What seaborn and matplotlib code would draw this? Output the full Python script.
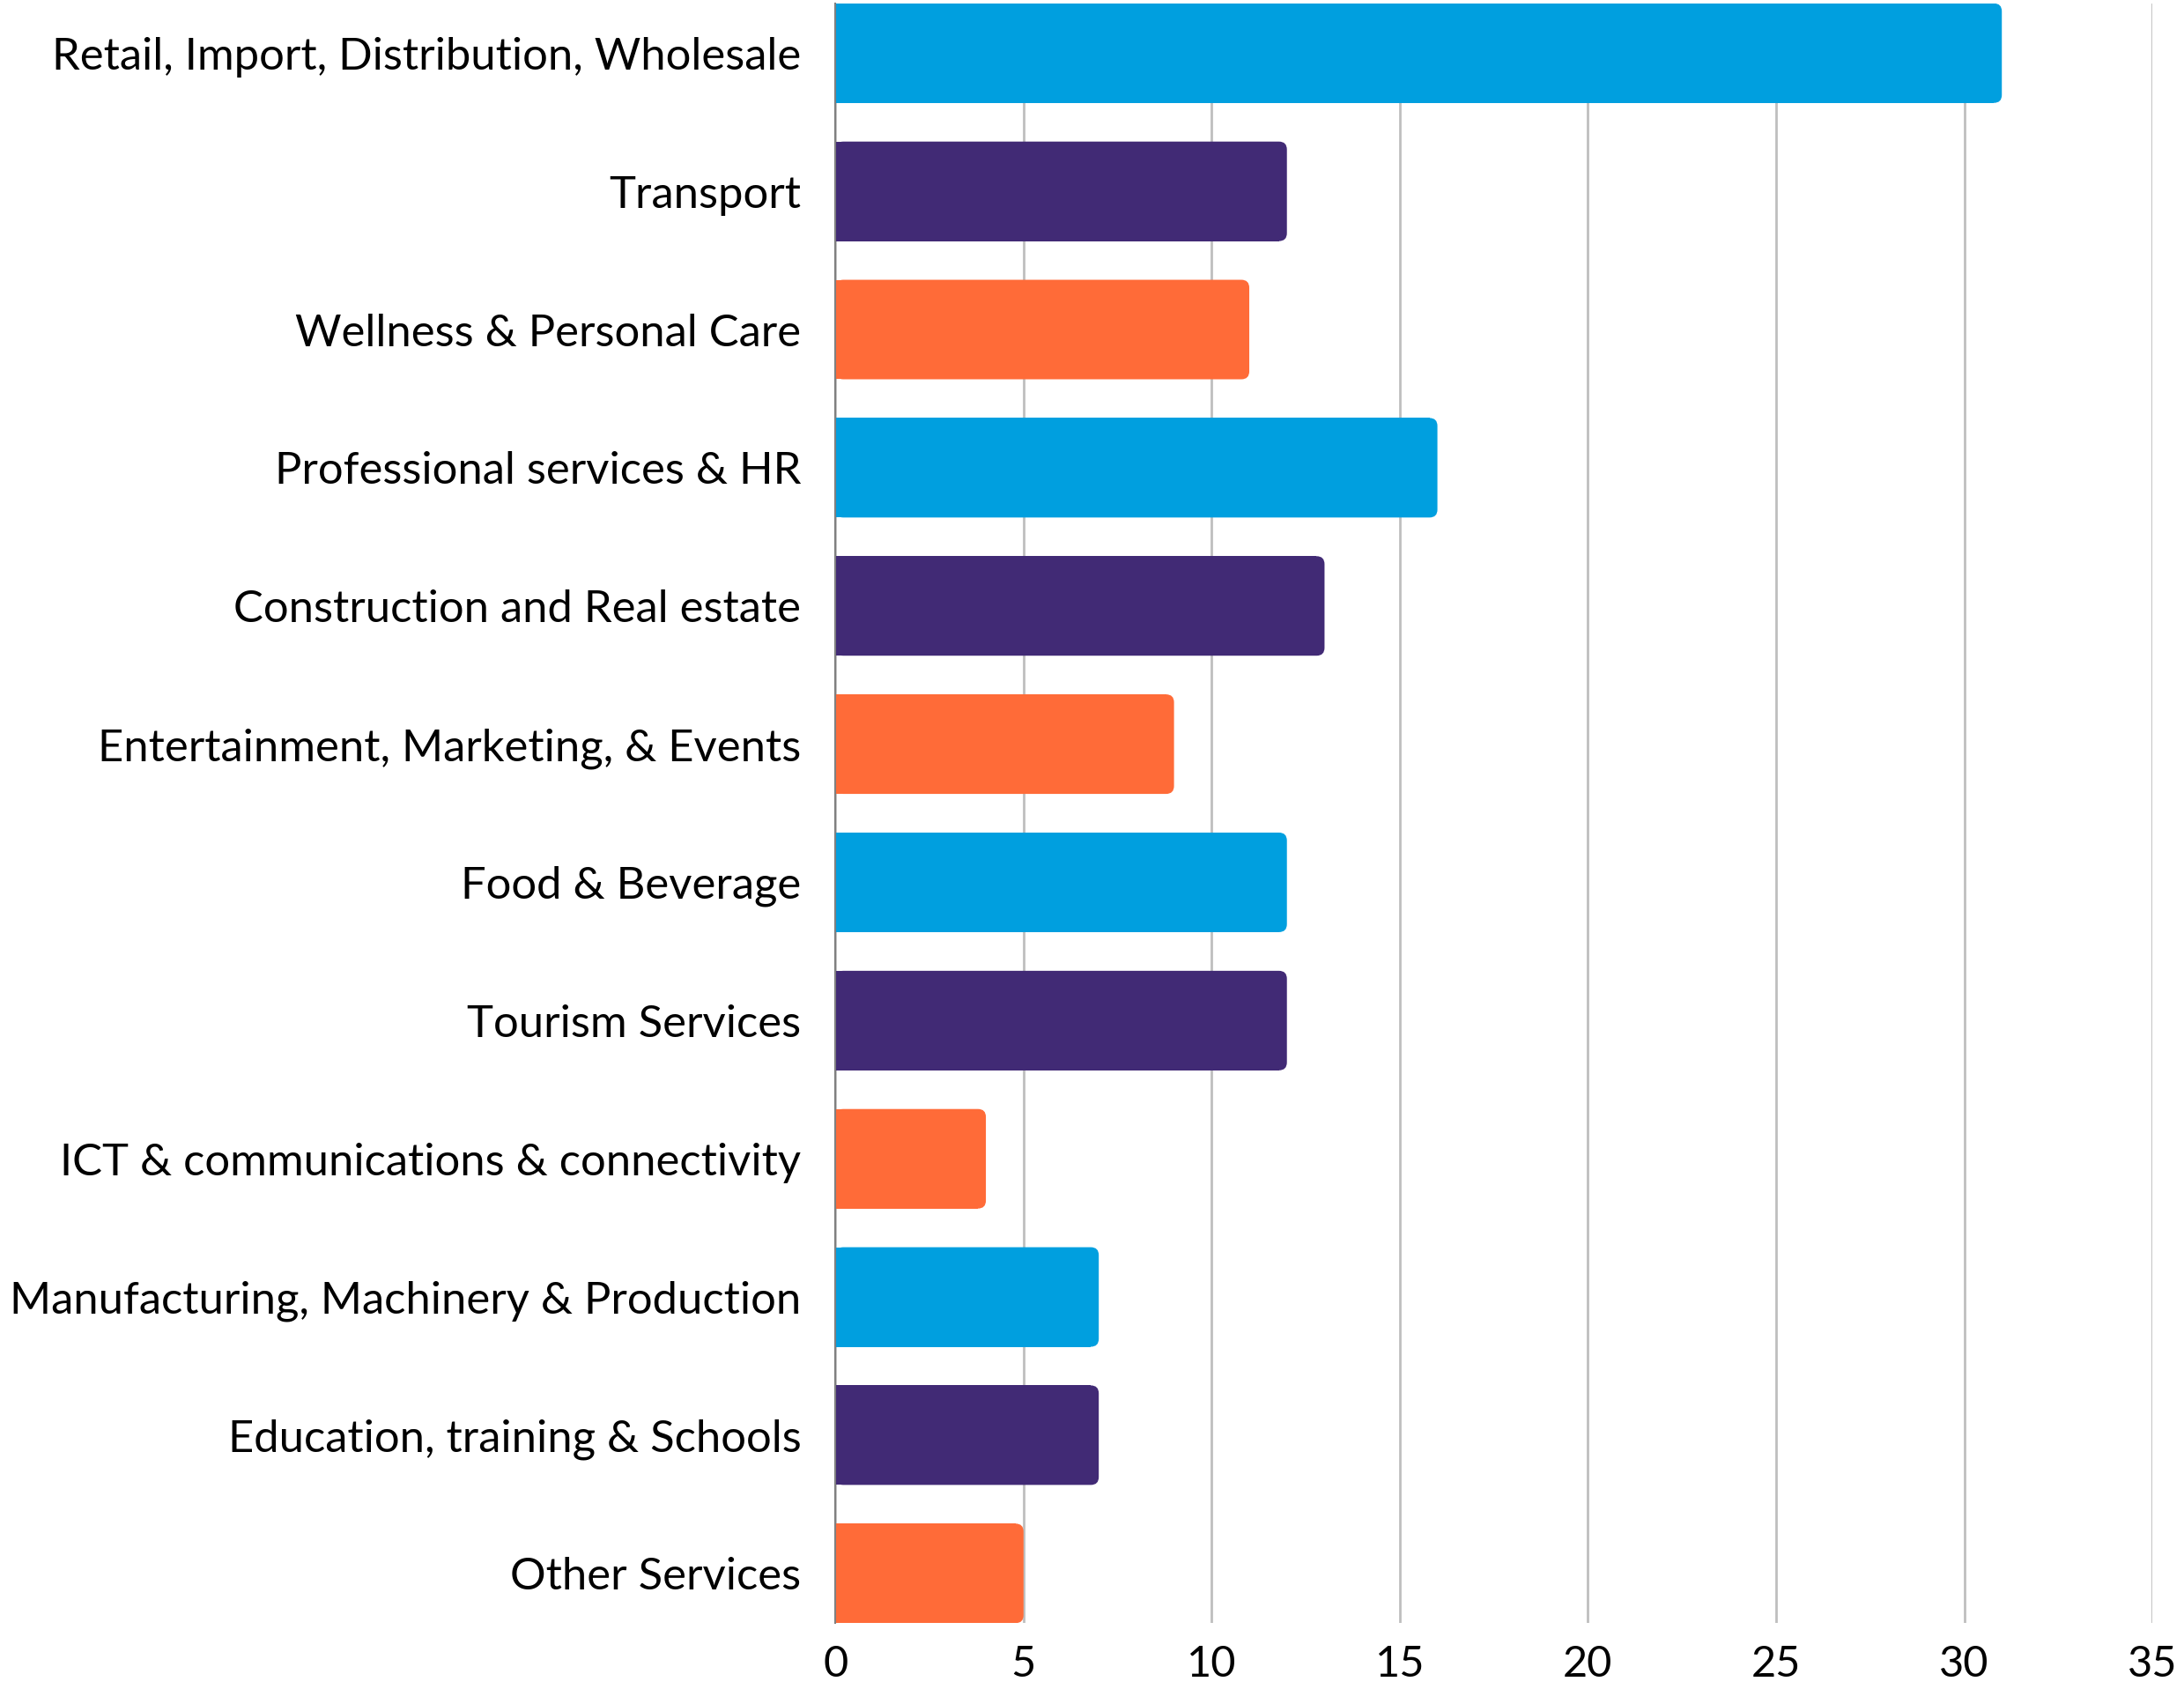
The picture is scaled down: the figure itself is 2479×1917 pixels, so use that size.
import pandas as pd
import numpy as np
import seaborn as sns
import matplotlib.pyplot as plt
from matplotlib.patches import FancyBboxPatch, Rectangle

# Data
sectors = [
    "Retail, Import, Distribution, Wholesale",
    "Transport",
    "Wellness & Personal Care",
    "Professional services & HR",
    "Construction and Real estate",
    "Entertainment, Marketing, & Events",
    "Food & Beverage",
    "Tourism Services",
    "ICT & communications & connectivity",
    "Manufacturing, Machinery & Production",
    "Education, training & Schools",
    "Other Services",
]
counts = [31, 12, 11, 16, 13, 9, 12, 12, 4, 7, 7, 5]
palette = ["#009FDF", "#412A75", "#FF6B38"]
bar_colors = [palette[i % 3] for i in range(len(sectors))]
x_ticks = [0, 5, 10, 15, 20, 25, 30, 35]

df = pd.DataFrame({"sector": sectors, "count": counts})

sns.set_style("white")
plt.rcParams["font.family"] = ["Lato", "DejaVu Sans"]

fig = plt.figure(figsize=(24.79, 19.17), dpi=100)
ax = fig.add_axes([0.3825, 0.039, 0.603, 0.959])

sns.barplot(data=df, x="count", y="sector", hue="sector", palette=bar_colors,
            saturation=1, width=0.72, legend=False, ax=ax, zorder=3)

ax.set_xlim(0, 35)
ax.set_ylim(len(sectors) - 1 + 0.36, -0.36)

# rounded right ends
fig.canvas.draw()
bb = ax.get_window_extent()
xu_per_px = 35 / bb.width
yu_per_px = (len(sectors) - 1 + 0.72) / bb.height
r = 9 * xu_per_px
for p in list(ax.patches):
    x0, y0 = p.get_x(), p.get_y()
    w, h = p.get_width(), p.get_height()
    c = p.get_facecolor()
    p.set_visible(False)
    ax.add_patch(FancyBboxPatch((x0, y0), w, h,
                                boxstyle=f"round,pad=0,rounding_size={r}",
                                mutation_aspect=yu_per_px / xu_per_px,
                                facecolor=c, edgecolor="none", zorder=3))
    ax.add_patch(Rectangle((x0, y0), max(w - r, 0), h,
                           facecolor=c, edgecolor="none", zorder=3))

ax.set_xticks(x_ticks)
ax.xaxis.grid(True, color="#BFBFBF", linewidth=2, zorder=0)
ax.yaxis.grid(False)
ax.set_axisbelow(True)
for s in ["top", "right", "bottom"]:
    ax.spines[s].set_visible(False)
ax.spines["left"].set_color("#808080")
ax.spines["left"].set_linewidth(1.5)
ax.spines["left"].set_zorder(4)

ax.tick_params(axis="y", length=0, labelsize=36.5, colors="black", pad=28)
ax.tick_params(axis="x", length=0, labelsize=35, colors="black", pad=18)
ax.set_xlabel("")
ax.set_ylabel("")

fig.savefig("out.png", dpi=100)
